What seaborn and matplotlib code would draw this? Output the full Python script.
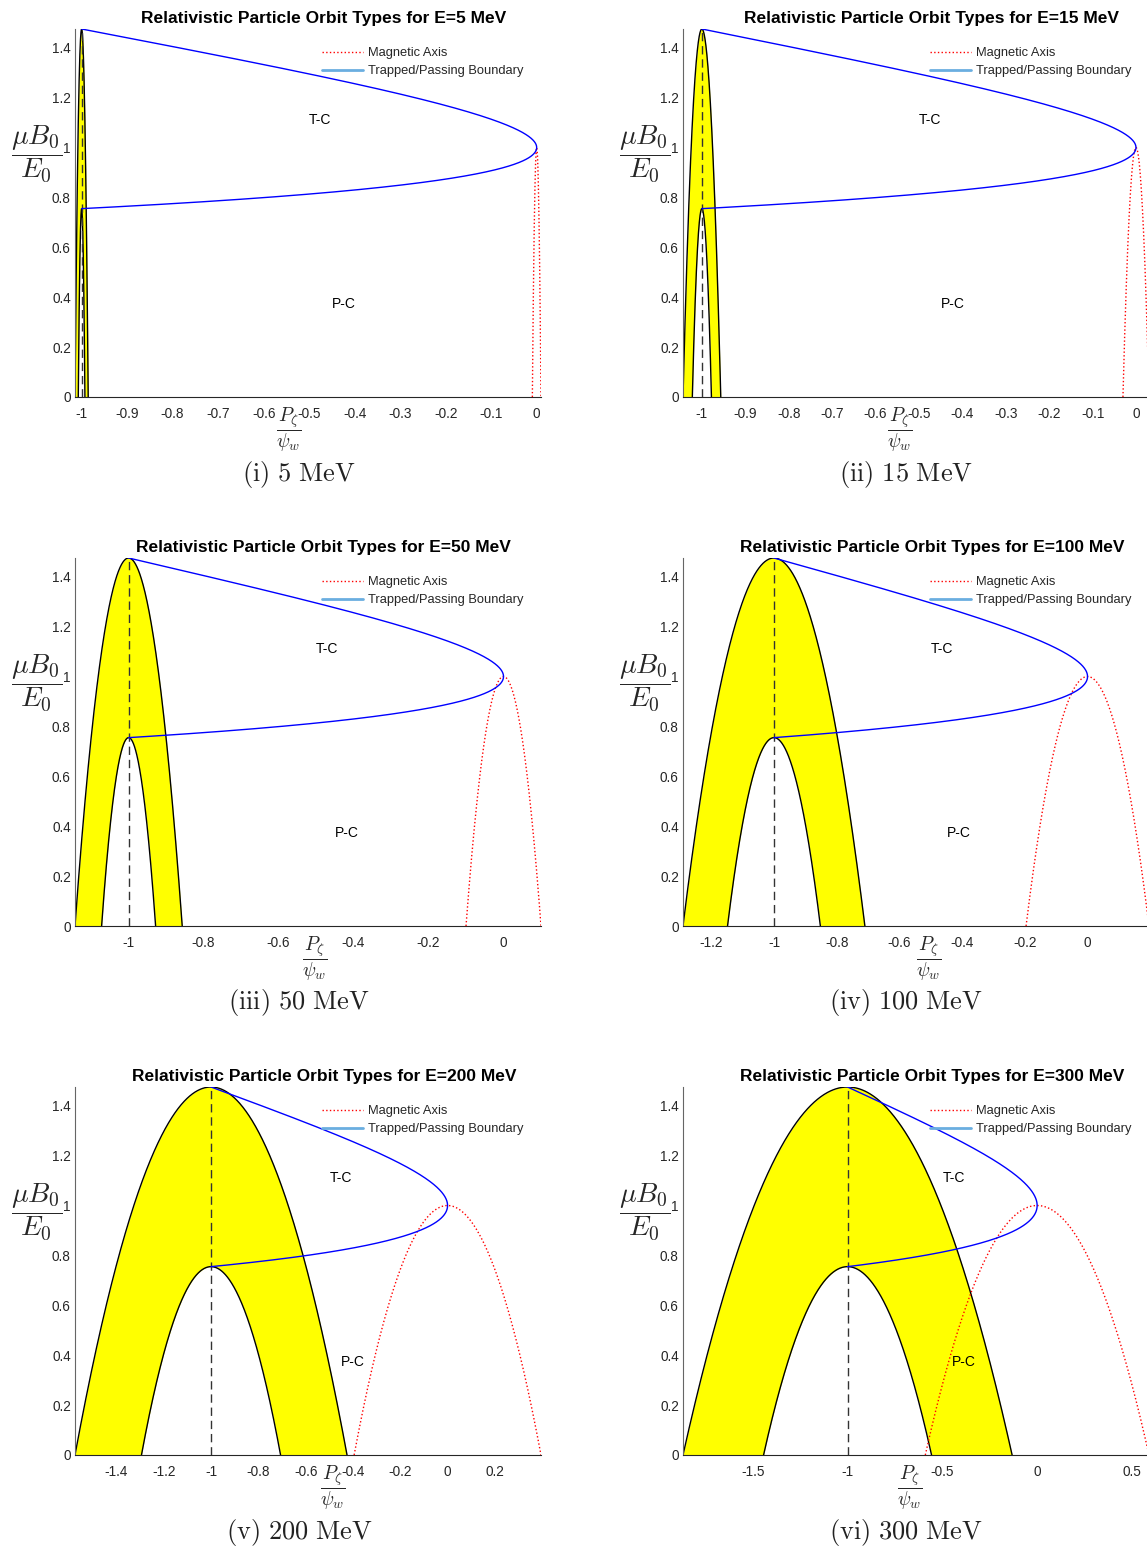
import numpy as np
import pandas as pd
import matplotlib
matplotlib.use("Agg")
import matplotlib.pyplot as plt
import seaborn as sns
from matplotlib.lines import Line2D

# ---------------- data ----------------
energies_mev = [5, 15, 50, 100, 200, 300]
panel_ids = ["i", "ii", "iii", "iv", "v", "vi"]
# half-widths (at mu*B0/E0 = 0) of the boundary parabolas centred at P/psi = -1
outer_half_width = [0.0145, 0.0435, 0.143, 0.29, 0.575, 0.868]
inner_half_width = [0.0073, 0.022, 0.072, 0.148, 0.294, 0.443]
# half-width of the magnetic-axis parabola centred at P/psi = 0
axis_half_width = [0.0095, 0.03, 0.1, 0.196, 0.395, 0.59]
outer_apex = 1.475
inner_apex = 0.755
axis_apex = 1.0
apex_position = -1.0
tc_label = (-0.5, 1.11)
pc_label = (-0.45, 0.373)
xtick_values = [
    [-1, -0.9, -0.8, -0.7, -0.6, -0.5, -0.4, -0.3, -0.2, -0.1, 0],
    [-1, -0.9, -0.8, -0.7, -0.6, -0.5, -0.4, -0.3, -0.2, -0.1, 0],
    [-1, -0.8, -0.6, -0.4, -0.2, 0],
    [-1.2, -1, -0.8, -0.6, -0.4, -0.2, 0],
    [-1.4, -1.2, -1, -0.8, -0.6, -0.4, -0.2, 0, 0.2],
    [-1.5, -1, -0.5, 0, 0.5],
]
ytick_values = [0, 0.2, 0.4, 0.6, 0.8, 1.0, 1.2, 1.4]
legend_labels = ["Magnetic Axis", "Trapped/Passing Boundary"]

# ---------------- layout / style ----------------
W, H = 1147, 1548
col_left = [75, 683]
row_top = [29, 558, 1087]
ax_w, ax_h = 466, 368
caption_x = [299, 906]
caption_y = [475, 1003, 1532]
xlabel_frac = [0.459, 0.466, 0.515, 0.528, 0.554, 0.487]

sns.set_style("white")
plt.rcParams["font.family"] = ["Liberation Sans", "DejaVu Sans"]
plt.rcParams["mathtext.fontset"] = "cm"

TXT = "#262626"
fig = plt.figure(figsize=(W / 100, H / 100), dpi=100)


def fmt(v):
    return "%g" % v


for k in range(6):
    r, c = divmod(k, 2)
    left = col_left[c]
    top = row_top[r]
    ax = fig.add_axes([left / W, 1 - (top + ax_h) / H, ax_w / W, ax_h / H])
    ax.set_facecolor("white")

    wo = outer_half_width[k]
    wi = inner_half_width[k]
    wa = axis_half_width[k]

    # outer and inner parabolas
    xo = np.linspace(apex_position - wo, apex_position + wo, 801)
    yo = outer_apex * (1 - ((xo - apex_position) / wo) ** 2)
    yi_full = inner_apex * (1 - ((xo - apex_position) / wi) ** 2)
    yi_clip = np.clip(yi_full, 0, None)
    ax.fill_between(xo, yi_clip, yo, color="#ffff00", lw=0, zorder=1)

    xi = np.linspace(apex_position - wi, apex_position + wi, 601)
    yi = inner_apex * (1 - ((xi - apex_position) / wi) ** 2)
    df_o = pd.DataFrame({"x": xo, "y": yo})
    df_i = pd.DataFrame({"x": xi, "y": yi})
    sns.lineplot(data=df_o, x="x", y="y", ax=ax, color="black", lw=1.0,
                 sort=False, estimator=None, zorder=2)
    sns.lineplot(data=df_i, x="x", y="y", ax=ax, color="black", lw=1.0,
                 sort=False, estimator=None, zorder=2)

    # dashed vertical line at apex
    df_v = pd.DataFrame({"x": [apex_position, apex_position], "y": [0, outer_apex]})
    sns.lineplot(data=df_v, x="x", y="y", ax=ax, color="#333333", lw=1.0,
                 sort=False, estimator=None, zorder=3)
    ax.lines[-1].set_dashes((6, 3.5))

    # magnetic axis
    xa = np.linspace(-wa, wa, 601)
    ya = axis_apex * (1 - (xa / wa) ** 2)
    df_a = pd.DataFrame({"x": xa, "y": ya})
    sns.lineplot(data=df_a, x="x", y="y", ax=ax, color="red", lw=1.0,
                 sort=False, estimator=None, zorder=4)
    ax.lines[-1].set_linestyle(":")

    # trapped / passing boundary (joins the two apexes through (0, 1))
    eps_up = 1 - 1 / outer_apex
    eps_lo = 1 / inner_apex - 1
    t = np.linspace(0, 1, 600)
    x_up = -(t[::-1]) ** 2
    y_up = 1 / (1 - eps_up * t[::-1])
    x_lo = -(t ** 2)
    y_lo = 1 / (1 + eps_lo * t)
    df_b = pd.DataFrame({"x": np.concatenate([x_up, x_lo]),
                         "y": np.concatenate([y_up, y_lo])})
    sns.lineplot(data=df_b, x="x", y="y", ax=ax, color="#0000ff", lw=1.0,
                 sort=False, estimator=None, zorder=5)

    ax.set_xlim(apex_position - wo, wa)
    ax.set_ylim(0, outer_apex)

    ax.set_xticks(xtick_values[k])
    ax.set_xticklabels([fmt(v) for v in xtick_values[k]])
    ax.set_yticks(ytick_values)
    ax.set_yticklabels([fmt(v) for v in ytick_values])
    ax.tick_params(axis="both", direction="in", length=4, width=0.7,
                   color=TXT, labelcolor=TXT, labelsize=9.8)
    ax.tick_params(axis="x", pad=7)
    ax.tick_params(axis="y", pad=3)

    for s in ["top", "right"]:
        ax.spines[s].set_visible(False)
    ax.spines["bottom"].set_color(TXT)
    ax.spines["left"].set_color("#666666")
    ax.spines["bottom"].set_linewidth(0.8)
    ax.spines["left"].set_linewidth(0.8)

    ax.set_title("Relativistic Particle Orbit Types for E=%d MeV" % energies_mev[k],
                 fontsize=12.5, fontweight="bold", color="black", x=0.534, pad=4.5)

    ax.set_xlabel(r"$\dfrac{P_\zeta}{\psi_w}$", fontsize=14, color=TXT)
    ax.xaxis.set_label_coords(xlabel_frac[k], -0.09)
    ax.xaxis.label.set_va("center")
    ax.set_ylabel(r"$\dfrac{\mu B_0}{E_0}$", fontsize=20, rotation=0, color=TXT)
    ax.yaxis.set_label_coords(-0.082, 0.66)
    ax.yaxis.label.set_va("center")
    ax.yaxis.label.set_ha("center")

    ax.text(tc_label[0], tc_label[1], "T-C", fontsize=10, ha="left", va="center",
            color="black", zorder=6)
    ax.text(pc_label[0], pc_label[1], "P-C", fontsize=10, ha="left", va="center",
            color="black", zorder=6)

    handles = [Line2D([], [], color="red", ls=":", lw=1.0),
               Line2D([], [], color="#6aaee0", lw=2.0)]
    ax.legend(handles=handles, labels=legend_labels, loc="upper left",
              bbox_to_anchor=(0.53, 0.95), frameon=False, fontsize=9.3,
              handlelength=3.2, handletextpad=0.4, labelspacing=0.45,
              borderpad=0, borderaxespad=0)

    fig.text(caption_x[c] / W, 1 - caption_y[r] / H,
             r"$\mathrm{(%s)\ %d\ MeV}$" % (panel_ids[k], energies_mev[k]),
             fontsize=19, ha="center", va="center", color="#222222")

fig.savefig("out.png", dpi=100)
